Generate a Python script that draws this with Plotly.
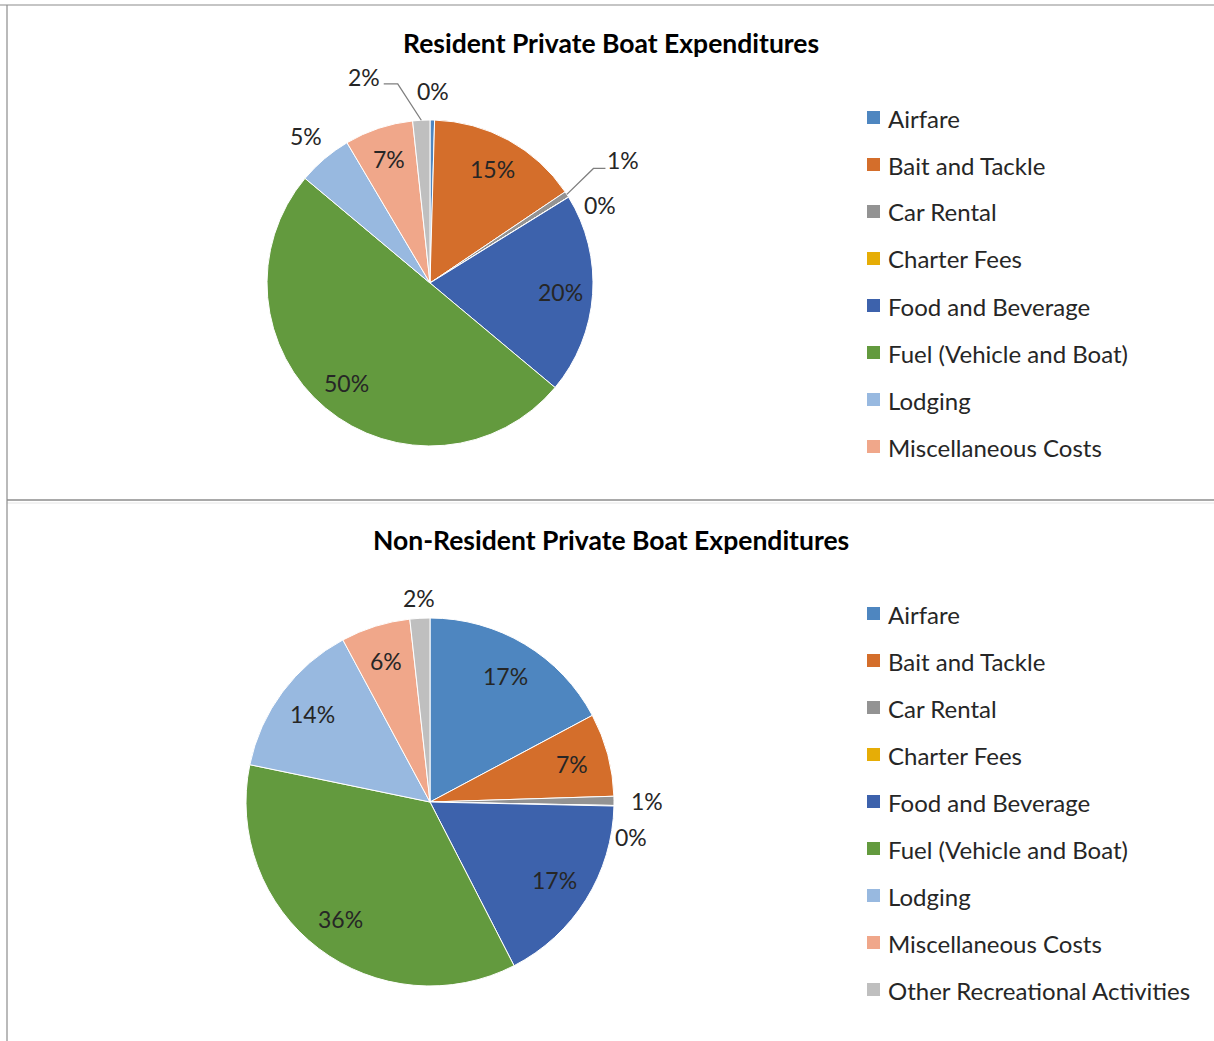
import math
import plotly.graph_objects as go

# ---- data -------------------------------------------------------------
categories = [
    "Airfare",
    "Bait and Tackle",
    "Car Rental",
    "Charter Fees",
    "Food and Beverage",
    "Fuel (Vehicle and Boat)",
    "Lodging",
    "Miscellaneous Costs",
    "Other Recreational Activities",
]
resident_share = [0.45, 15.1, 0.6, 0.02, 19.9, 50.0, 5.4, 6.8, 1.7]
nonresident_share = [17.2, 7.3, 0.8, 0.05, 17.1, 35.8, 13.9, 6.1, 1.75]

resident_legend = categories[:8]
nonresident_legend = categories[:9]

titles = ["Resident Private Boat Expenditures", "Non-Resident Private Boat Expenditures"]

# ---- styling ----------------------------------------------------------
colors = ["#4E86C0", "#D46E2B", "#939393", "#E6AD06", "#3D62AC",
          "#639A3E", "#98B9E0", "#F0A78A", "#BFBFBF"]
FONT = "Lato, 'Open Sans', sans-serif"
TEXT_COLOR = "#262626"
W, H = 1214, 1041


def paper(x, y):
    return x / W, 1 - y / H


# pie geometry in page pixels: centre x, centre y, radius
pies = [
    dict(cx=430, cy=283, r=163, values=resident_share, legend=resident_legend,
         legend_y0=118, title_y=43,
         # label nudges (px) and leader lines for the crowded small slices
         nudge={"Car Rental": (32, -18), "Charter Fees": (7, 23),
                "Other Recreational Activities": (-56, -14)},
         leaders={"Car Rental": "right", "Other Recreational Activities": "left"},
         outer=1.18),
    dict(cx=430, cy=802, r=184, values=nonresident_share, legend=nonresident_legend,
         legend_y0=614, title_y=540,
         nudge={"Charter Fees": (-16, 31), "Other Recreational Activities": (1, 13)},
         leaders={},
         outer=1.18),
]

fig = go.Figure()
annotations = []
shapes = []

for n, p in enumerate(pies):
    x0, y1 = paper(p["cx"] - p["r"], p["cy"] - p["r"])
    x1, y0 = paper(p["cx"] + p["r"], p["cy"] + p["r"])
    fig.add_trace(go.Pie(
        labels=categories,
        values=p["values"],
        sort=False,
        direction="clockwise",
        rotation=0,
        textinfo="none",
        marker=dict(colors=colors, line=dict(color="white", width=1)),
        domain=dict(x=[x0, x1], y=[y0, y1]),
        showlegend=False,
        hovertemplate="%{label}: %{percent}<extra></extra>",
    ))

    total = sum(p["values"])
    cum = 0.0
    for cat, v in zip(categories, p["values"]):
        share = v / total
        mid = (cum + share / 2) * 2 * math.pi
        cum += share
        label = f"{round(share * 100):.0f}%"
        inside = share >= 0.06
        k = 0.8 if inside else p["outer"]
        lx = p["cx"] + k * p["r"] * math.sin(mid)
        ly = p["cy"] - k * p["r"] * math.cos(mid)
        dx, dy = p["nudge"].get(cat, (0, 0))
        lx += dx
        ly += dy
        ax, ay = paper(lx, ly)
        annotations.append(dict(
            x=ax, y=ay, xref="paper", yref="paper", text=label, showarrow=False,
            xanchor="center", yanchor="middle",
            font=dict(family=FONT, size=23, color=TEXT_COLOR)))

        side = p["leaders"].get(cat)
        if side:
            ex = p["cx"] + p["r"] * math.sin(mid)
            ey = p["cy"] - p["r"] * math.cos(mid)
            if side == "right":
                pts = [(ex, ey), (lx - 30, ly + 8), (lx - 18, ly + 8)]
            else:
                pts = [(ex, ey), (lx + 34, ly + 7), (lx + 20, ly + 7)]
            path = "M " + " L ".join(
                f"{paper(a, b)[0]:.5f},{paper(a, b)[1]:.5f}" for a, b in pts)
            shapes.append(dict(type="path", xref="paper", yref="paper", path=path,
                               line=dict(color="#7F7F7F", width=1.3)))

    # chart title
    tx, ty = paper(611, p["title_y"])
    annotations.append(dict(
        x=tx, y=ty, xref="paper", yref="paper", text=f"<b>{titles[n]}</b>",
        showarrow=False, xanchor="center", yanchor="middle",
        font=dict(family=FONT, size=26.5, color="#000000")))

    # legend: colour square + name
    for i, name in enumerate(p["legend"]):
        yc = p["legend_y0"] + 47 * i
        sx0, sy0 = paper(867, yc - 7)
        sx1, sy1 = paper(880, yc + 6)
        shapes.append(dict(type="rect", xref="paper", yref="paper",
                           x0=sx0, x1=sx1, y0=sy1, y1=sy0,
                           fillcolor=colors[categories.index(name)], line=dict(width=0)))
        nx, ny = paper(886, yc)
        annotations.append(dict(
            x=nx, y=ny, xref="paper", yref="paper", text=name, showarrow=False,
            xanchor="left", yanchor="middle",
            font=dict(family=FONT, size=24, color=TEXT_COLOR)))


# chart frame lines
def hline(y, x0, x1, color, width=1.2):
    a, b = paper(x0, y)
    c, _ = paper(x1, y)
    shapes.append(dict(type="line", xref="paper", yref="paper", x0=a, x1=c, y0=b, y1=b,
                       line=dict(color=color, width=width)))


hline(5, 0, W, "#8C8C8C")
hline(500, 7, W, "#8C8C8C", 1.5)
hline(503, 7, W, "#E6E6E6", 1)
lx0, ly0 = paper(7, 5)
lx1, ly1 = paper(7, H)
shapes.append(dict(type="line", xref="paper", yref="paper", x0=lx0, x1=lx1, y0=ly0, y1=ly1,
                   line=dict(color="#8C8C8C", width=1.2)))

fig.update_layout(
    width=W, height=H,
    margin=dict(l=0, r=0, t=0, b=0),
    paper_bgcolor="white",
    plot_bgcolor="white",
    annotations=annotations,
    shapes=shapes,
    showlegend=False,
)

fig.write_html("out.html")
